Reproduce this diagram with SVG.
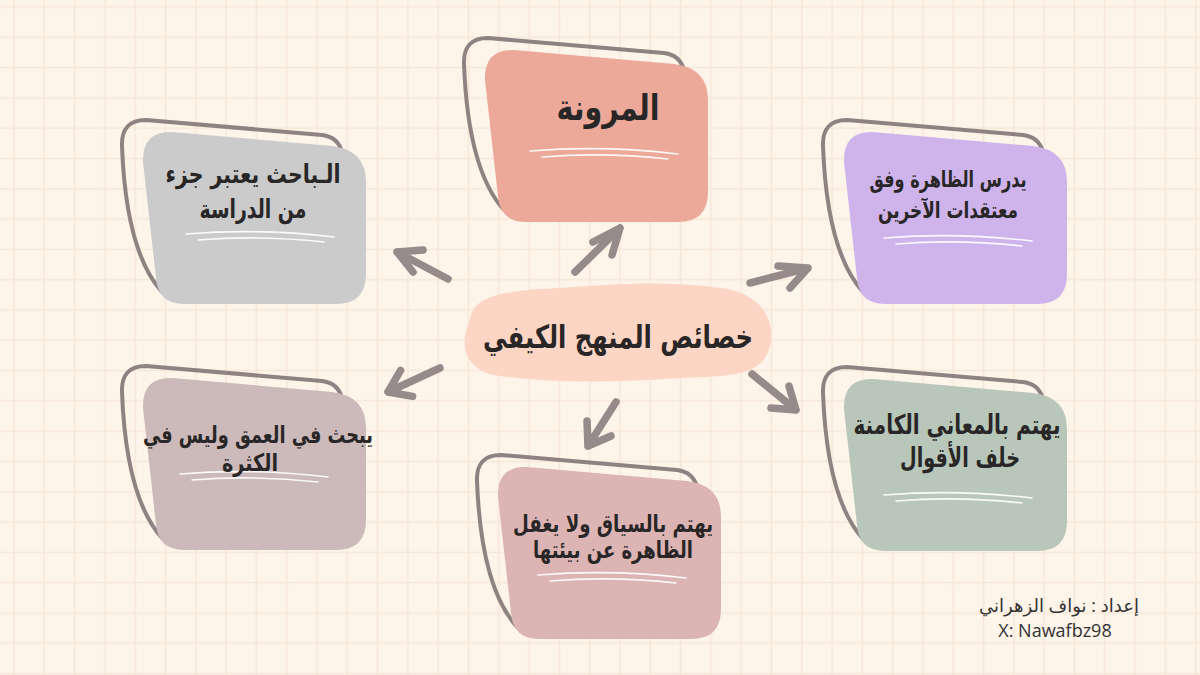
<svg xmlns="http://www.w3.org/2000/svg" xmlns:xlink="http://www.w3.org/1999/xlink" width="1200" height="675" viewBox="0 0 1200 675">
<style>
.outline{fill:none;stroke:#8f8282;stroke-width:4;stroke-linejoin:round;stroke-linecap:round}
.deco{fill:none;stroke:#ffffff;stroke-width:1.6;stroke-linecap:round;opacity:0.9}
.lbl{font-family:"DejaVu Sans","Noto Sans",sans-serif;font-weight:bold;fill:#282626;text-anchor:middle}
.arrow{fill:none;stroke:#978a8a;stroke-width:7.5;stroke-linecap:round;stroke-linejoin:round}
.foot{font-family:"Open Sans","DejaVu Sans",sans-serif;font-size:18px;fill:#333333;text-anchor:middle}
</style>
<defs>
<pattern id="grid" patternUnits="userSpaceOnUse" x="12.5" y="5.5" width="30.3" height="30.3">
<path d="M1.5 0 V30.3 M0 1.5 H30.3" stroke="#f6e7d8" stroke-width="1.6" fill="none"/>
</pattern>
<path id="cardFill" d="M30,0 L190,14 Q224,18 224,50 L224,142 Q224,172 194,172 L42,172 Q16,172 14,146 L1,30 Q0,-1 30,0 Z"/>
<path id="cardOutline" d="M20,160 Q-16,120 -20,14 Q-21,-12 4,-12 L180,3 Q196,5 200,20 L196,150 Z"/>
<g id="decoLines"><path class="deco" d="M46,101 Q120,95 194,104"/><path class="deco" d="M58,107 Q120,102 184,109"/></g>
</defs>
<rect width="1200" height="675" fill="#fdf4ea"/>
<rect width="1200" height="675" fill="url(#grid)"/>

<g id="connectors">
<path class="arrow" d="M448,279 L397,252 M423,250 L397,252 L413,272"/>
<path class="arrow" d="M575,272 L620,228 M593,242 L620,228 L612,255"/>
<path class="arrow" d="M750,283 L808,268 M778,266 L808,268 L790,288"/>
<path class="arrow" d="M440,368 L388,392 M400.6,370.4 L388,392 L412.6,396.4"/>
<path class="arrow" d="M616,402 L588,446 M587,421 L588,446 L611,436"/>
<path class="arrow" d="M752,374 L796,410 M789,386 L796,410 L771,408"/>
</g>

<g id="node-center">
<path d="M470,320 C472,292 520,290 560,288 C610,284 665,280 722,288 C772,296 776,332 768,352 C758,378 720,376 680,378 C620,382 560,384 500,376 C465,372 458,345 470,320 Z" fill="#fdd5c4"/>
<text class="lbl" x="618" y="348" font-size="32" direction="rtl" textLength="270" lengthAdjust="spacingAndGlyphs">خصائص المنهج الكيفي</text>
</g>

<g id="node-flexibility" transform="translate(484,50)">
<use xlink:href="#cardOutline" class="outline"/>
<use xlink:href="#cardFill" fill="#eca99a"/>
<use xlink:href="#decoLines"/>
<text class="lbl" x="124" y="70" font-size="36" direction="rtl" textLength="103" lengthAdjust="spacingAndGlyphs">المرونة</text>
</g>

<g id="node-researcher" transform="translate(142,132)">
<use xlink:href="#cardOutline" class="outline"/>
<use xlink:href="#cardFill" fill="#cbcbcb"/>
<use xlink:href="#decoLines" transform="translate(-2,1)"/>
<text class="lbl" x="111" y="51" font-size="26" direction="rtl" textLength="175" lengthAdjust="spacingAndGlyphs">الـباحث يعتبر جزء</text>
<text class="lbl" x="111" y="86" font-size="26" direction="rtl" textLength="107" lengthAdjust="spacingAndGlyphs">من الدراسة</text>
</g>

<g id="node-beliefs" transform="translate(843,132)">
<use xlink:href="#cardOutline" class="outline"/>
<use xlink:href="#cardFill" fill="#cfb4ec"/>
<use xlink:href="#decoLines" transform="translate(-5,5)"/>
<text class="lbl" x="105" y="55" font-size="23" direction="rtl" textLength="157" lengthAdjust="spacingAndGlyphs">يدرس الظاهرة وفق</text>
<text class="lbl" x="105" y="86" font-size="23" direction="rtl" textLength="140" lengthAdjust="spacingAndGlyphs">معتقدات الآخرين</text>
</g>

<g id="node-depth" transform="translate(142,378)">
<use xlink:href="#cardOutline" class="outline"/>
<use xlink:href="#cardFill" fill="#ccb9b9"/>
<use xlink:href="#decoLines" transform="translate(-8,-5)"/>
<text class="lbl" x="116" y="65" font-size="24" direction="rtl" textLength="230" lengthAdjust="spacingAndGlyphs">يبحث في العمق وليس في</text>
<text class="lbl" x="108" y="93" font-size="24" direction="rtl" textLength="56" lengthAdjust="spacingAndGlyphs">الكثرة</text>
</g>

<g id="node-meanings" transform="translate(843,379)">
<use xlink:href="#cardOutline" class="outline"/>
<use xlink:href="#cardFill" fill="#b8c7b9"/>
<use xlink:href="#decoLines" transform="translate(-5,15)"/>
<text class="lbl" x="114" y="55" font-size="27" direction="rtl" textLength="207" lengthAdjust="spacingAndGlyphs">يهتم بالمعاني الكامنة</text>
<text class="lbl" x="117" y="88" font-size="27" direction="rtl" textLength="120" lengthAdjust="spacingAndGlyphs">خلف الأقوال</text>
</g>

<g id="node-context" transform="translate(497,467)">
<use xlink:href="#cardOutline" class="outline"/>
<use xlink:href="#cardFill" fill="#dcb4b4"/>
<use xlink:href="#decoLines" transform="translate(-5,7)"/>
<text class="lbl" x="116" y="65" font-size="24" direction="rtl" textLength="200" lengthAdjust="spacingAndGlyphs">يهتم بالسياق ولا يغفل</text>
<text class="lbl" x="116" y="91" font-size="24" direction="rtl" textLength="160" lengthAdjust="spacingAndGlyphs">الظاهرة عن بيئتها</text>
</g>

<g id="credit">
<text class="foot" x="1059" y="612" direction="rtl">إعداد : نواف الزهراني</text>
<text class="foot" x="1055" y="637">X: Nawafbz98</text>
</g>
</svg>
